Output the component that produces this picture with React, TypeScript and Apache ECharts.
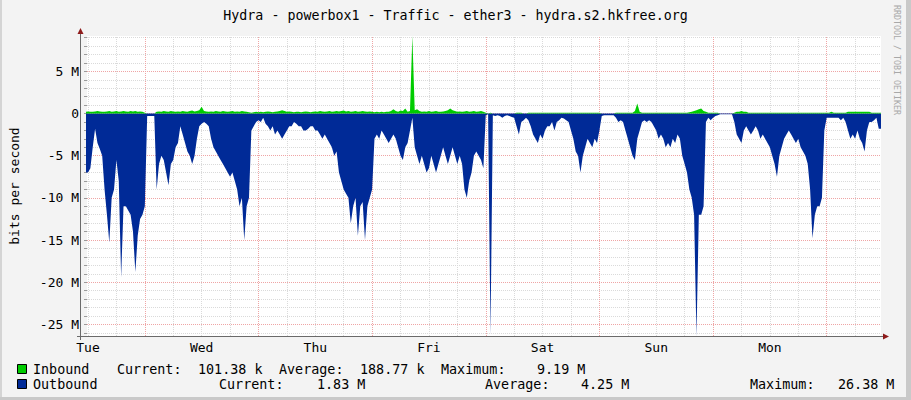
import React, { useEffect, useRef } from "react";
import * as echarts from "echarts";

// ---------- data ----------
const chartTitle = "Hydra - powerbox1 - Traffic - ether3 - hydra.s2.hkfree.org";
const yAxisTitle = "bits per second";
const watermark = "RRDTOOL / TOBI OETIKER";
const dayLabels = ["Tue", "Wed", "Thu", "Fri", "Sat", "Sun", "Mon"];
const yLabelValuesM = [5, 0, -5, -10, -15, -20, -25];

// samples every 30 min, starting Tue 11:30 (hours since Tue 00:00)
const sampleStartHour = 11.5;
const sampleStepHours = 0.5;

// Inbound, Mbit/s
const inboundMbps = [
  0.2,0.25,0.2,0.2,0.25,0.3,0.25,0.2,0.2,0.25,
  0.3,0.2,0.25,0.3,0.2,0.25,0.3,0.25,0.2,0.3,
  0.25,0.3,0.2,0.25,0.2,0.1,0,0,0,0,
  0.2,0.25,0.2,0.3,0.25,0.2,0.3,0.25,0.2,0.25,
  0.2,0.3,0.25,0.2,0.3,0.35,0.25,0.3,0.4,0.8,
  0.3,0.25,0.2,0.25,0.2,0.3,0.25,0.2,0.3,0.25,
  0.2,0.25,0.3,0.2,0.25,0.2,0.3,0.25,0.2,0.15,
  0.1,0.15,0.2,0.15,0.2,0.15,0.2,0.25,0.2,0.15,
  0.2,0.25,0.3,0.4,0.3,0.2,0.25,0.2,0.15,0.2,
  0.2,0.15,0.2,0.25,0.2,0.15,0.2,0.25,0.2,0.3,
  0.25,0.2,0.25,0.3,0.2,0.25,0.3,0.25,0.3,0.35,
  0.25,0.3,0.2,0.25,0.3,0.2,0.25,0.3,0.25,0.2,
  0.25,0.2,0.15,0.2,0.15,0.2,0.15,0.2,0.2,0.3,
  0.5,0.3,0.2,0.35,0.3,0.6,0.2,0.3,9.19,0.4,
  0.5,0.3,0.2,0.25,0.2,0.3,0.2,0.25,0.3,0.2,
  0.2,0.25,0.3,0.4,0.6,0.4,0.3,0.2,0.25,0.2,
  0.25,0.3,0.2,0.25,0.3,0.2,0.25,0.3,0.2,0.1,
  0,0.1,0,0,0,0,0,0,0,0,
  0,0,0.1,0.1,0.1,0,0,0.1,0.1,0.1,
  0.1,0.1,0.1,0.1,0.1,0.1,0.1,0.1,0.1,0.1,
  0.1,0.1,0.1,0.1,0.1,0.1,0.1,0.1,0.1,0.1,
  0.1,0.1,0.1,0.1,0.1,0.1,0.1,0.1,0,0,
  0,0,0,0,0.1,0.1,0.1,0.1,0.1,0.1,
  0.1,0.1,0.3,1.2,0.2,0.1,0.1,0.1,0.1,0.1,
  0.1,0.1,0.1,0.1,0.1,0.1,0.1,0.1,0.1,0.1,
  0.1,0.1,0.1,0.1,0.1,0.15,0.2,0.3,0.4,0.5,
  0.6,0.3,0.2,0.1,0.1,0.1,0.1,0.1,0,0,
  0,0,0,0,0.1,0.2,0.2,0.3,0.2,0.2,
  0.1,0.1,0.1,0.1,0.1,0.1,0.1,0.1,0.1,0.1,
  0.1,0.1,0.1,0.1,0.1,0.1,0.1,0.1,0.1,0.1,
  0.1,0.1,0.1,0.1,0.1,0.1,0.1,0.1,0.1,0.1,
  0.1,0.1,0.1,0.1,0.1,0.2,0.1,0.1,0.1,0.1,
  0.1,0.1,0.2,0.2,0.2,0.2,0.2,0.2,0.2,0.2,
  0.2,0.2,0.1,0.1,0.1,0.1,0.1,
];

// Outbound, Mbit/s (drawn below zero)
const outboundMbps = [
  7,7,6.5,4,1.8,3.5,4.2,5,9,12,
  15.3,10,9,5.5,8,19.4,11,11,11.5,12,
  14,18.8,14.5,12.5,12,11,0.3,0.3,0.3,0.3,
  9,6,5,5.5,7,8.5,6,5.5,4,3.5,
  1.5,2.5,3.5,4.5,5,6,5,3,1.5,1.2,
  1,1.2,1.5,3,4,4.5,5,5.5,6,6.5,
  7,7.5,7,8,9,11,10,15,11,10,
  2,1.5,1,0.8,1,0.5,1.2,1.5,2,1.5,
  2.5,2,2.5,3,2.5,2,1.5,1.5,1,1.2,
  1.5,1.5,2,2,1.8,1.5,1.5,2,2,2.5,
  3,2.5,3,3.5,4,5,4.5,7,8,9,
  9.5,10,13,11,10,14.5,11,10.5,15,11,
  10,9,3,2.5,3,2,2.5,3,3.5,3,
  2.5,3,4,5,5.5,4,3.5,2,0.5,4,
  5,6,5,6,7,6.5,5,6,7,6,
  5,4,5,6,5,4,5,6,5,6,
  9,10,8,7,5,4.5,5,5.5,6.5,0.2,
  0.1,26.2,0.2,0.3,0.2,0.3,0.5,0.3,0.2,0.3,
  0.4,0.5,1.5,2.5,1,0.8,0.5,0.8,1.5,2.5,
  3,3.5,2.5,3,2,1.5,1.5,1,2,1,
  0.8,0.5,0.6,0.8,1,2,3,4.5,5,7,
  5,4,3,3.5,4,3,3.5,2,0.3,0.2,
  0.2,0.2,0.2,0.2,0.5,1,0.8,1,2,3,
  4,5,5.5,3,2,1,0.8,1,0.8,1,
  1.5,2,3,2.5,3,4,3.5,4,3,3.5,
  2.5,3,5,6,7,9,10,12,26.4,12,
  12,11,1,0.5,0.8,0.5,0.3,0.2,0.1,0.1,
  0.1,0.1,0.1,0.1,1,2.5,3,3.5,2,1.5,
  2,2.5,2,1.5,2,3,2.5,3,3.5,4,
  5,6,7.5,5,4,3,2.5,2,2.5,3,
  3.5,3,4,4.5,5,6,9,14.8,12,11,
  11,10,2,0.5,0.5,0.5,0.5,0.5,0.5,0.8,
  0.5,1,2,3,2.5,3,2,3,3.5,4.5,
  2,1,1,0.8,0.5,1.8,1.8,
];

const inboundLegend = ["Inbound", "Current:", "101.38 k", "Average:", "188.77 k", "Maximum:", "9.19 M"];
const outboundLegend = ["Outbound", "Current:", "1.83 M", "Average:", "4.25 M", "Maximum:", "26.38 M"];

// ---------- styling ----------
const MONO = "'DejaVu Sans Mono', 'Liberation Mono', monospace";
const IN_COLOR = "#00CC00";
const OUT_COLOR = "#002A97";
const MINOR = "#DADADA";
const MAJOR = "#EFA5A5";

export default function App() {
  const ref = useRef<HTMLDivElement>(null);

  useEffect(() => {
    if (!ref.current) return;
    const chart = echarts.init(ref.current, null, { renderer: "svg" });

    const xMin = 11.79;
    const xMax = 179.47;
    const yMin = -26.38e6;
    const yMax = 9.19e6;

    const hourOf = (i: number) => sampleStartHour + i * sampleStepHours;
    const inData = inboundMbps.map((v, i) => [hourOf(i), v * 1e6]);
    const outData = outboundMbps.map((v, i) => [hourOf(i), -v * 1e6]);

    const minorLines: any[] = [];
    const majorLines: any[] = [];
    for (let m = Math.ceil(yMin / 1e6); m <= Math.floor(yMax / 1e6); m++) {
      (m % 5 === 0 ? majorLines : minorLines).push({ yAxis: m * 1e6, lineStyle: { color: m % 5 === 0 ? MAJOR : MINOR } });
    }
    for (let h = 12; h < xMax; h += 6) {
      (h % 24 === 0 ? majorLines : minorLines).push({ xAxis: h, lineStyle: { color: h % 24 === 0 ? MAJOR : MINOR } });
    }
    const yTicks: number[] = [];
    for (let m = Math.ceil(yMin / 1e6); m <= Math.floor(yMax / 1e6); m++) yTicks.push(m * 1e6);
    const xTicks: number[] = [];
    for (let h = 12; h < xMax; h += 6) xTicks.push(h);
    const xLabelHours = dayLabels.map((_, i) => 12 + 24 * i);

    const legendX1 = [33, 117, 198, 279, 360, 441, 537];
    const legendX2 = [33, 219, 317, 485, 581, 750, 838];
    const legendFont = { fontFamily: MONO, fontSize: 13.4, fill: "#000" };

    const graphic: any[] = [
      { type: "rect", shape: { x: 0, y: 0, width: 2, height: 400 }, style: { fill: "#D4D4D4" }, silent: true },
      { type: "rect", shape: { x: 906, y: 0, width: 5, height: 400 }, style: { fill: "#C9C9C9" }, silent: true },
      { type: "rect", shape: { x: 0, y: 397, width: 911, height: 3 }, style: { fill: "#C9C9C9" }, silent: true },
      {
        type: "text", x: 455.5, y: 15,
        style: { text: chartTitle, fontFamily: MONO, fontSize: 13.3, fill: "#000", align: "center", verticalAlign: "middle" },
      },
      {
        type: "text", x: 897, y: 60, rotation: -Math.PI / 2,
        style: { text: watermark, fontFamily: MONO, fontSize: 8.3, fill: "#A8A8A8", align: "center", verticalAlign: "middle" },
      },
      { type: "line", shape: { x1: 80.5, y1: 340, x2: 80.5, y2: 31 }, style: { stroke: "#6A6A6A", lineWidth: 1 }, z: 10 },
      { type: "line", shape: { x1: 77, y1: 336.5, x2: 884, y2: 336.5 }, style: { stroke: "#6A6A6A", lineWidth: 1 }, z: 10 },
      { type: "polygon", shape: { points: [[77.5, 34], [83.5, 34], [80.5, 28]] }, style: { fill: "#8E1B1B" }, z: 10 },
      { type: "polygon", shape: { points: [[883, 333.5], [883, 339.5], [889, 336.5]] }, style: { fill: "#8E1B1B" }, z: 10 },
      { type: "rect", shape: { x: 17.5, y: 364.5, width: 9, height: 9 }, style: { fill: IN_COLOR, stroke: "#000", lineWidth: 1 } },
      { type: "rect", shape: { x: 17.5, y: 379.5, width: 9, height: 9 }, style: { fill: OUT_COLOR, stroke: "#000", lineWidth: 1 } },
    ];
    inboundLegend.forEach((t, i) =>
      graphic.push({ type: "text", x: legendX1[i], y: 369, style: { text: t, ...legendFont, align: "left", verticalAlign: "middle" } })
    );
    outboundLegend.forEach((t, i) =>
      graphic.push({ type: "text", x: legendX2[i], y: 384, style: { text: t, ...legendFont, align: "left", verticalAlign: "middle" } })
    );

    chart.setOption({
      animation: false,
      backgroundColor: "#F3F3F3",
      grid: { left: 81, top: 36, width: 800, height: 300, show: true, backgroundColor: "#FFFFFF", borderWidth: 0 },
      xAxis: {
        type: "value", min: xMin, max: xMax,
        axisLine: { show: false },
        splitLine: { show: false },
        axisTick: { show: true, customValues: xTicks, length: 3, lineStyle: { color: "#9A9A9A" } },
        axisLabel: {
          customValues: xLabelHours,
          formatter: (v: number) => dayLabels[Math.round((v - 12) / 24)] ?? "",
          color: "#000", fontFamily: MONO, fontSize: 13, margin: 5,
        },
      },
      yAxis: {
        type: "value", min: yMin, max: yMax,
        axisLine: { show: false },
        splitLine: { show: false },
        axisTick: { show: true, customValues: yTicks, length: 3, lineStyle: { color: "#9A9A9A" } },
        axisLabel: {
          customValues: yLabelValuesM.map((m) => m * 1e6),
          formatter: (v: number) => (Math.abs(v) < 1 ? "0" : `${Math.round(v / 1e6)} M`),
          color: "#000", fontFamily: MONO, fontSize: 13, margin: 8,
        },
        name: yAxisTitle, nameLocation: "middle", nameRotate: 90, nameGap: 66,
        nameTextStyle: { color: "#000", fontFamily: MONO, fontSize: 13 },
      },
      series: [
        {
          type: "line", z: 1, silent: true, data: [[xMin, 0]], symbol: "none",
          lineStyle: { opacity: 0 },
          markLine: {
            z: 1,
            silent: true, symbol: ["none", "none"], animation: false,
            label: { show: false },
            lineStyle: { type: [1, 1], width: 1 },
            emphasis: { disabled: true },
            data: [...minorLines, ...majorLines],
          },
        },
        {
          name: "Outbound", type: "line", z: 2, data: outData, symbol: "none", silent: true,
          lineStyle: { width: 0, color: OUT_COLOR },
          areaStyle: { color: OUT_COLOR, opacity: 1 },
        },
        {
          name: "Inbound", type: "line", z: 3, data: inData, symbol: "none", silent: true,
          lineStyle: { width: 0, color: IN_COLOR },
          areaStyle: { color: IN_COLOR, opacity: 1 },
        },
      ],
      graphic,
    });

    return () => chart.dispose();
  }, []);

  return <div ref={ref} style={{ position: "absolute", left: 0, top: 0, width: 911, height: 400 }} />;
}
